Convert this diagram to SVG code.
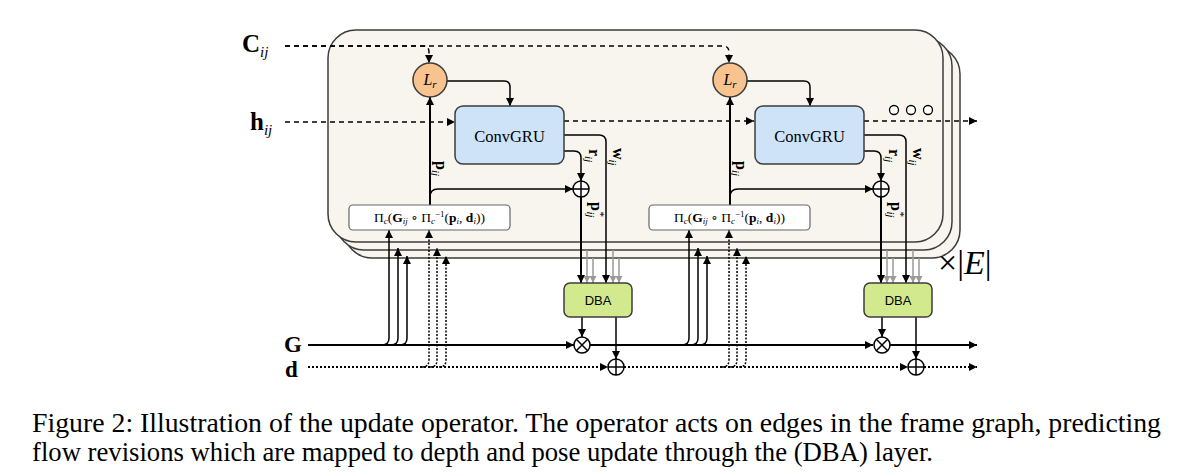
<svg xmlns="http://www.w3.org/2000/svg" width="1187" height="476" viewBox="0 0 1187 476">
<style>
.panel{fill:#f7f5ee;stroke:#3c3c3c;stroke-width:1.5}
.ln{fill:none;stroke:#000;stroke-width:1.5}
.thk{fill:none;stroke:#000;stroke-width:2}
.dash{fill:none;stroke:#000;stroke-width:1.5;stroke-dasharray:5,4}
.dot{fill:none;stroke:#000;stroke-width:1.5;stroke-dasharray:2,1.5}
.dotb{fill:none;stroke:#000;stroke-width:2;stroke-dasharray:2,2}
.gray{fill:none;stroke:#9a9a9a;stroke-width:1.5}
.lr{fill:#f9c38f;stroke:#3c3c3c;stroke-width:1.5}
.gru{fill:#cfe3f8;stroke:#3c3c3c;stroke-width:1.5}
.dba{fill:#d3e98e;stroke:#3c3c3c;stroke-width:1.5}
.pi{fill:#fff;stroke:#666;stroke-width:1.2}
.op{fill:#fff;stroke:#000;stroke-width:1.5}
.serif{font-family:"Liberation Serif","DejaVu Serif",serif;fill:#000}
.sans{font-family:"Liberation Sans",Arial,sans-serif;fill:#000}
.lbl{font-family:"Liberation Serif","DejaVu Serif",serif;font-size:16px;font-weight:bold}
.sub{font-style:italic;font-weight:normal}
</style>
<defs>
<marker id="ah" viewBox="0 0 10 10" refX="10" refY="5" markerWidth="9" markerHeight="8" markerUnits="userSpaceOnUse" orient="auto"><path d="M0,0 L10,5 L0,10 z" fill="#000"/></marker>
<marker id="ahg" viewBox="0 0 10 10" refX="10" refY="5" markerWidth="8" markerHeight="7" markerUnits="userSpaceOnUse" orient="auto"><path d="M0,0 L10,5 L0,10 z" fill="#9a9a9a"/></marker>
</defs>
<rect width="1187" height="476" fill="#fff"/>

<g id="panels">
<rect class="panel" x="344" y="46" width="616" height="212" rx="28"/>
<rect class="panel" x="336" y="38" width="616" height="212" rx="28"/>
<rect class="panel" x="328" y="30" width="615" height="212" rx="28"/>
</g>

<g id="labels">
<text class="serif" x="242" y="52" font-size="25" font-weight="bold">C<tspan class="sub" font-size="15" dy="5">ij</tspan></text>
<text class="serif" x="250" y="130" font-size="25" font-weight="bold">h<tspan class="sub" font-size="15" dy="5">ij</tspan></text>
<text class="serif" x="284" y="352" font-size="23" font-weight="bold">G</text>
<text class="serif" x="285" y="377" font-size="23" font-weight="bold">d</text>
<text class="serif" x="938" y="274" font-size="34">×|<tspan font-style="italic">E</tspan>|</text>
</g>

<g id="connectors">
<path class="dash" d="M285,46 L423,46 Q429,46 429,52 L429,63" marker-end="url(#ah)"/>
<path class="dash" d="M285,46 L723,46 Q729,46 729,52 L729,63" marker-end="url(#ah)"/>
<path class="dash" d="M285,122 L455,122" marker-end="url(#ah)"/>
<path class="dash" d="M564,121 L754,121" marker-end="url(#ah)"/>
<path class="dash" d="M864,121 L977,121" marker-end="url(#ah)"/>
<path class="thk" d="M308,345 L574,345" marker-end="url(#ah)"/>
<path class="thk" d="M590,345 L873,345" marker-end="url(#ah)"/>
<path class="thk" d="M889,345 L977,345" marker-end="url(#ah)"/>
<path class="dotb" d="M308,367 L608,367" marker-end="url(#ah)"/>
<path class="dotb" d="M624,367 L908,367" marker-end="url(#ah)"/>
<path class="dotb" d="M924,367 L977,367" marker-end="url(#ah)"/>

<path class="ln" d="M447,81 L504,81 Q510,81 510,87 L510,106" marker-end="url(#ah)"/>
<path class="thk" d="M430,205 L430,97" marker-end="url(#ah)"/>
<path class="ln" d="M430,197 Q430,189 438,189 L573,189" marker-end="url(#ah)"/>
<path class="ln" d="M564,151 L574,151 Q581,151 581,158 L581,181" marker-end="url(#ah)"/>
<path class="ln" d="M564,135 L599,135 Q606,135 606,142 L606,283" marker-end="url(#ah)"/>
<path class="thk" d="M581,197 L581,283" marker-end="url(#ah)"/>
<path class="gray" d="M587,250 L587,283" marker-end="url(#ahg)"/>
<path class="gray" d="M593,258 L593,283" marker-end="url(#ahg)"/>
<path class="gray" d="M613,250 L613,283" marker-end="url(#ahg)"/>
<path class="gray" d="M619,258 L619,283" marker-end="url(#ahg)"/>
<path class="ln" d="M582,317 L582,337" marker-end="url(#ah)"/>
<path class="ln" d="M616,317 L616,359" marker-end="url(#ah)"/>
<path class="ln" d="M382,345 Q389,345 389,338 L389,230" marker-end="url(#ah)"/>
<path class="ln" d="M391,345 Q398,345 398,338 L398,248" marker-end="url(#ah)"/>
<path class="ln" d="M400,345 Q407,345 407,338 L407,256" marker-end="url(#ah)"/>
<path class="dot" d="M422,367 Q429,367 429,360 L429,230" marker-end="url(#ah)"/>
<path class="dot" d="M430,367 Q437,367 437,360 L437,248" marker-end="url(#ah)"/>
<path class="dot" d="M439,367 Q446,367 446,360 L446,256" marker-end="url(#ah)"/>

<path class="ln" d="M747,81 L804,81 Q810,81 810,87 L810,106" marker-end="url(#ah)"/>
<path class="thk" d="M730,205 L730,97" marker-end="url(#ah)"/>
<path class="ln" d="M730,197 Q730,189 738,189 L873,189" marker-end="url(#ah)"/>
<path class="ln" d="M864,151 L874,151 Q881,151 881,158 L881,181" marker-end="url(#ah)"/>
<path class="ln" d="M864,135 L899,135 Q906,135 906,142 L906,283" marker-end="url(#ah)"/>
<path class="thk" d="M881,197 L881,283" marker-end="url(#ah)"/>
<path class="gray" d="M887,250 L887,283" marker-end="url(#ahg)"/>
<path class="gray" d="M893,258 L893,283" marker-end="url(#ahg)"/>
<path class="gray" d="M913,250 L913,283" marker-end="url(#ahg)"/>
<path class="gray" d="M919,258 L919,283" marker-end="url(#ahg)"/>
<path class="ln" d="M882,317 L882,337" marker-end="url(#ah)"/>
<path class="ln" d="M916,317 L916,359" marker-end="url(#ah)"/>
<path class="ln" d="M682,345 Q689,345 689,338 L689,230" marker-end="url(#ah)"/>
<path class="ln" d="M691,345 Q698,345 698,338 L698,248" marker-end="url(#ah)"/>
<path class="ln" d="M700,345 Q707,345 707,338 L707,256" marker-end="url(#ah)"/>
<path class="dot" d="M722,367 Q729,367 729,360 L729,230" marker-end="url(#ah)"/>
<path class="dot" d="M730,367 Q737,367 737,360 L737,248" marker-end="url(#ah)"/>
<path class="dot" d="M739,367 Q746,367 746,360 L746,256" marker-end="url(#ah)"/>
</g>

<g id="edge-labels">
<text class="lbl" transform="translate(436,161) rotate(90)">p<tspan class="sub" font-size="11" dy="4">ij</tspan></text>
<text class="lbl" transform="translate(589,149) rotate(90)">r<tspan class="sub" font-size="11" dy="4">ij</tspan></text>
<text class="lbl" transform="translate(613,148) rotate(90)">w<tspan class="sub" font-size="11" dy="4">ij</tspan></text>
<text class="lbl" transform="translate(591,202) rotate(90)">p<tspan class="sub" font-size="11" dy="-6">*</tspan><tspan class="sub" font-size="11" dx="-5" dy="10">ij</tspan></text>
<text class="lbl" transform="translate(736,161) rotate(90)">p<tspan class="sub" font-size="11" dy="4">ij</tspan></text>
<text class="lbl" transform="translate(889,149) rotate(90)">r<tspan class="sub" font-size="11" dy="4">ij</tspan></text>
<text class="lbl" transform="translate(913,148) rotate(90)">w<tspan class="sub" font-size="11" dy="4">ij</tspan></text>
<text class="lbl" transform="translate(891,202) rotate(90)">p<tspan class="sub" font-size="11" dy="-6">*</tspan><tspan class="sub" font-size="11" dx="-5" dy="10">ij</tspan></text>
</g>

<g id="Lr1"><circle class="lr" cx="430" cy="80" r="17"/><text class="serif" x="430" y="85" font-size="16" font-style="italic" text-anchor="middle">L<tspan font-size="11" dy="3">r</tspan></text></g>
<g id="Lr2"><circle class="lr" cx="730" cy="80" r="17"/><text class="serif" x="730" y="85" font-size="16" font-style="italic" text-anchor="middle">L<tspan font-size="11" dy="3">r</tspan></text></g>

<g id="ConvGRU1"><rect class="gru" x="455" y="106" width="109" height="58" rx="8"/><text class="serif" x="509.5" y="142" font-size="16.5" text-anchor="middle">ConvGRU</text></g>
<g id="ConvGRU2"><rect class="gru" x="755" y="106" width="109" height="58" rx="8"/><text class="serif" x="809.5" y="142" font-size="16.5" text-anchor="middle">ConvGRU</text></g>

<g id="Proj1"><rect class="pi" x="349" y="205" width="161" height="25" rx="4"/>
<text class="serif" x="429.5" y="222" font-size="13.5" text-anchor="middle">Π<tspan font-size="9" font-style="italic" dy="2">c</tspan><tspan dy="-2">(</tspan><tspan font-weight="bold">G</tspan><tspan font-size="9" font-style="italic" dy="2">ij</tspan><tspan dy="-2"> ∘ Π</tspan><tspan font-size="9" font-style="italic" dy="2">c</tspan><tspan font-size="9" dy="-7">−1</tspan><tspan dy="5">(</tspan><tspan font-weight="bold">p</tspan><tspan font-size="9" font-style="italic" dy="2">i</tspan><tspan dy="-2">, </tspan><tspan font-weight="bold">d</tspan><tspan font-size="9" font-style="italic" dy="2">i</tspan><tspan dy="-2">))</tspan></text></g>
<g id="Proj2"><rect class="pi" x="649" y="205" width="161" height="25" rx="4"/>
<text class="serif" x="729.5" y="222" font-size="13.5" text-anchor="middle">Π<tspan font-size="9" font-style="italic" dy="2">c</tspan><tspan dy="-2">(</tspan><tspan font-weight="bold">G</tspan><tspan font-size="9" font-style="italic" dy="2">ij</tspan><tspan dy="-2"> ∘ Π</tspan><tspan font-size="9" font-style="italic" dy="2">c</tspan><tspan font-size="9" dy="-7">−1</tspan><tspan dy="5">(</tspan><tspan font-weight="bold">p</tspan><tspan font-size="9" font-style="italic" dy="2">i</tspan><tspan dy="-2">, </tspan><tspan font-weight="bold">d</tspan><tspan font-size="9" font-style="italic" dy="2">i</tspan><tspan dy="-2">))</tspan></text></g>

<g id="plusR1"><circle class="op" cx="581" cy="189" r="8"/><path class="ln" d="M573,189 H589 M581,181 V197"/></g>
<g id="plusR2"><circle class="op" cx="881" cy="189" r="8"/><path class="ln" d="M873,189 H889 M881,181 V197"/></g>

<g id="DBA1"><rect class="dba" x="564" y="283" width="68" height="34" rx="6"/><text class="sans" x="598" y="305" font-size="13" text-anchor="middle">DBA</text></g>
<g id="DBA2"><rect class="dba" x="864" y="283" width="68" height="34" rx="6"/><text class="sans" x="898" y="305" font-size="13" text-anchor="middle">DBA</text></g>

<g id="timesG1"><circle class="op" cx="582" cy="345" r="8"/><path class="ln" d="M576.3,339.3 L587.7,350.7 M587.7,339.3 L576.3,350.7"/></g>
<g id="timesG2"><circle class="op" cx="882" cy="345" r="8"/><path class="ln" d="M876.3,339.3 L887.7,350.7 M887.7,339.3 L876.3,350.7"/></g>
<g id="plusD1"><circle class="op" cx="616" cy="367" r="8"/><path class="ln" d="M608,367 H624 M616,359 V375"/></g>
<g id="plusD2"><circle class="op" cx="916" cy="367" r="8"/><path class="ln" d="M908,367 H924 M916,359 V375"/></g>

<g id="ellipsis" fill="#fff" stroke="#000" stroke-width="1.3">
<circle cx="894" cy="110" r="4.5"/><circle cx="911" cy="110" r="4.5"/><circle cx="928" cy="110" r="4.5"/>
</g>

<g id="caption" class="serif" font-size="26.5">
<text x="32" y="432" textLength="1129" lengthAdjust="spacingAndGlyphs">Figure 2: Illustration of the update operator. The operator acts on edges in the frame graph, predicting</text>
<text x="32" y="461" textLength="901" lengthAdjust="spacingAndGlyphs">flow revisions which are mapped to depth and pose update through the (DBA) layer.</text>
</g>
</svg>
